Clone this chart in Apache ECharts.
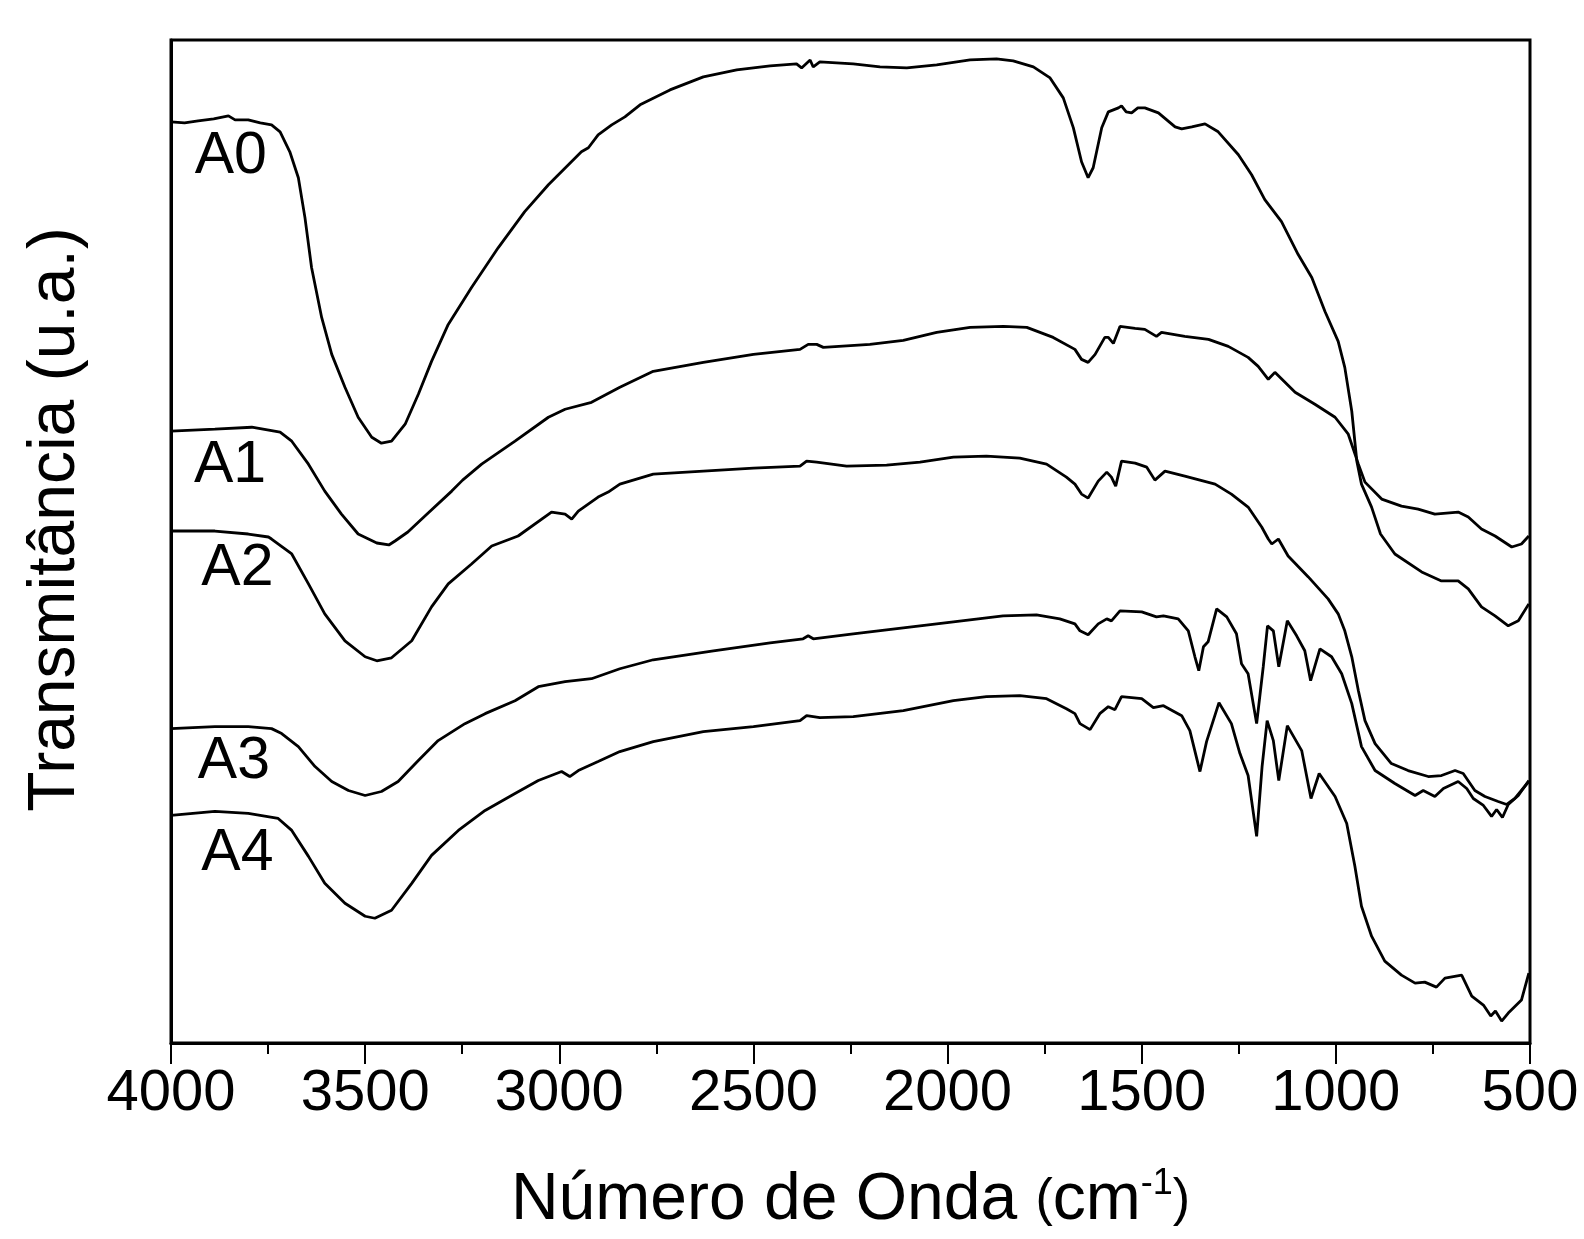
<!DOCTYPE html>
<html>
<head>
<meta charset="utf-8">
<title>FTIR A0-A4</title>
<script src="https://cdn.jsdelivr.net/npm/echarts@6/dist/echarts.min.js"></script>
<style>
  html, body { margin: 0; padding: 0; background: #fff; }
  #chart { width: 1584px; height: 1239px; }
</style>
</head>
<body>
<div id="chart"></div>
<script>
// espectros: [numero de onda, transmitancia (u.a.)]
var specA0 = [[4000,923],[3965,922],[3930,924],[3890,926],[3852,929],[3835,925],[3801,925],[3770,922],[3741,920],[3719,913],[3694,893],[3672,867],[3655,827],[3638,777],[3612,727],[3586,690],[3552,657],[3518,627],[3483,607],[3458,601],[3432,603],[3397,620],[3363,650],[3329,683],[3286,720],[3226,757],[3157,797],[3089,833],[3028,860],[2943,893],[2925,897],[2900,910],[2865,920],[2831,928],[2792,940],[2715,955],[2629,968],[2543,975],[2457,979],[2389,981],[2376,977],[2354,985],[2346,978],[2329,983],[2243,981],[2174,978],[2105,977],[2028,980],[1942,985],[1874,986],[1831,984],[1779,978],[1736,967],[1702,947],[1676,917],[1655,883],[1638,867],[1625,877],[1603,917],[1586,933],[1560,937],[1552,939],[1540,933],[1526,932],[1510,937],[1492,937],[1457,932],[1414,918],[1397,916],[1371,918],[1337,921],[1303,913],[1251,890],[1217,870],[1183,845],[1140,823],[1097,790],[1062,767],[1028,733],[994,703],[977,677],[959,633],[946,583],[934,560],[908,537],[885,510],[848,490],[779,472],[728,463],[685,463],[659,455],[625,437],[590,428],[556,418],[530,423],[503,440]];

var specA1 = [[4000,613],[3887,615],[3792,617],[3719,612],[3689,603],[3646,580],[3604,553],[3561,530],[3518,510],[3502,507],[3470,501],[3439,499],[3423,503],[3390,512],[3346,528],[3277,553],[3249,564],[3200,580],[3114,603],[3028,627],[2985,635],[2917,642],[2844,657],[2758,673],[2629,682],[2500,690],[2380,695],[2359,700],[2337,700],[2320,697],[2200,700],[2114,704],[2028,712],[1942,717],[1856,718],[1796,717],[1728,707],[1672,695],[1655,685],[1638,682],[1620,690],[1595,707],[1586,707],[1573,701],[1556,718],[1517,716],[1492,715],[1462,708],[1449,712],[1389,708],[1328,705],[1277,698],[1226,687],[1200,678],[1174,665],[1157,672],[1105,652],[1054,640],[1002,627],[968,610],[942,580],[925,562],[882,545],[831,538],[788,535],[745,530],[685,532],[659,527],[625,515],[590,508],[547,497],[522,500],[503,508]];

var specA2 = [[4000,513],[3887,513],[3801,510],[3749,507],[3741,505],[3689,490],[3646,460],[3604,430],[3552,403],[3500,387],[3470,383],[3432,386],[3380,403],[3329,437],[3286,460],[3226,480],[3174,498],[3106,508],[3020,532],[2985,530],[2968,525],[2951,533],[2900,547],[2874,552],[2844,560],[2758,570],[2629,573],[2500,576],[2380,578],[2363,583],[2337,582],[2260,578],[2157,579],[2071,582],[1985,587],[1900,588],[1814,586],[1745,580],[1694,567],[1672,560],[1655,550],[1638,546],[1612,563],[1590,572],[1578,567],[1567,558],[1552,583],[1517,581],[1487,577],[1466,564],[1440,573],[1389,568],[1311,560],[1269,550],[1226,537],[1191,517],[1174,505],[1165,500],[1148,505],[1123,488],[1071,467],[1020,445],[994,430],[977,413],[959,387],[942,353],[925,323],[899,300],[857,280],[814,273],[762,267],[728,268],[693,273],[672,270],[642,253],[616,247],[582,242],[560,239],[539,245],[518,255],[503,262]];

var specA3 = [[4000,315],[3887,317],[3801,317],[3741,315],[3715,310],[3672,297],[3629,277],[3586,262],[3543,253],[3500,248],[3458,252],[3415,262],[3363,283],[3312,303],[3243,320],[3191,330],[3114,343],[3054,357],[2985,362],[2917,365],[2844,375],[2758,384],[2603,393],[2457,401],[2372,405],[2359,408],[2346,405],[2243,410],[2114,416],[1985,422],[1857,428],[1771,429],[1711,425],[1672,420],[1659,413],[1638,409],[1612,420],[1590,425],[1578,423],[1556,433],[1500,432],[1462,427],[1444,428],[1406,425],[1380,413],[1363,387],[1353,373],[1341,397],[1329,402],[1307,435],[1281,427],[1256,410],[1243,380],[1226,370],[1204,320],[1187,377],[1176,418],[1161,413],[1147,377],[1125,423],[1101,408],[1080,393],[1065,363],[1041,395],[1011,387],[985,370],[959,340],[934,297],[899,273],[848,260],[796,248],[775,253],[745,247],[723,255],[685,262],[663,255],[646,245],[620,238],[599,227],[586,234],[571,226],[556,239],[530,248],[503,263]];

var specA4 = [[4000,228],[3887,232],[3801,230],[3724,225],[3689,213],[3646,187],[3604,160],[3552,140],[3500,127],[3475,125],[3432,133],[3380,160],[3329,188],[3260,213],[3191,233],[3114,250],[3054,263],[2994,272],[2973,267],[2951,273],[2900,282],[2844,292],[2758,302],[2629,312],[2500,317],[2380,323],[2363,328],[2329,326],[2243,327],[2114,333],[1985,343],[1900,347],[1814,348],[1745,345],[1694,335],[1672,330],[1659,320],[1633,314],[1608,330],[1586,337],[1569,334],[1552,347],[1500,345],[1470,336],[1444,338],[1397,328],[1376,313],[1350,272],[1333,302],[1301,341],[1269,320],[1247,290],[1226,268],[1204,207],[1190,277],[1177,323],[1161,303],[1147,263],[1125,318],[1088,293],[1064,245],[1043,270],[1002,247],[972,220],[951,177],[934,137],[908,107],[874,82],[831,68],[796,60],[771,61],[741,56],[719,65],[676,68],[650,47],[620,38],[601,27],[589,32],[573,22],[556,30],[522,43],[503,70]];

var sampleNames = ['A0', 'A1', 'A2', 'A3', 'A4'];
// posicao dos rotulos das amostras, em coordenadas dos eixos
var labelPos = [[3846,888],[3848,578],[3829,475],[3838,282],[3829,190]];

var xTicks = [4000, 3500, 3000, 2500, 2000, 1500, 1000, 500];

var fontName = '"Liberation Sans", Arial, sans-serif';

var myChart = echarts.init(document.getElementById('chart'));

var specs = [specA0, specA1, specA2, specA3, specA4];
var series = [];
for (var i = 0; i < specs.length; i++) {
	series.push({
		name: sampleNames[i],
		type: 'line',
		data: specs[i],
		showSymbol: false,
		symbol: 'none',
		silent: true,
		lineStyle: { color: '#000', width: 2.8 }
	});
}
series.push({
	type: 'scatter',
	symbolSize: 0,
	silent: true,
	z: 5,
	itemStyle: { color: '#000' },
	data: labelPos.map(function (p, k) { return { name: sampleNames[k], value: p }; }),
	label: {
		show: true,
		position: 'inside',
		formatter: '{b}',
		color: '#000',
		opacity: 1,
		textBorderWidth: 0,
		fontFamily: fontName,
		fontSize: 59
	}
});

var option = {
	backgroundColor: '#fff',
	animation: false,
	grid: {
		left: 171,
		right: 54,
		top: 40,
		bottom: 194,
		show: true,
		borderColor: '#000',
		borderWidth: 3,
		backgroundColor: 'transparent'
	},
	xAxis: {
		type: 'value',
		min: 500,
		max: 4000,
		interval: 500,
		inverse: true,
		axisLine: { show: true, onZero: false, lineStyle: { color: '#000', width: 3 } },
		axisTick: { show: true, length: 21, lineStyle: { color: '#000', width: 2 } },
		minorTick: { show: true, splitNumber: 2, length: 11, lineStyle: { color: '#000', width: 2 } },
		splitLine: { show: false },
		axisLabel: {
			color: '#000',
			fontFamily: fontName,
			fontSize: 58,
			margin: 22,
			showMinLabel: true,
			showMaxLabel: true,
			formatter: function (v) { return xTicks.indexOf(v) >= 0 ? String(v) : ''; }
		},
		name: '{t|Número de Onda }{p|(}{t|cm}{s|-1}{p|)}',
		nameLocation: 'middle',
		nameGap: 123,
		nameTextStyle: {
			rich: {
				t: { fontFamily: fontName, fontSize: 66, color: '#000', lineHeight: 70 },
				p: { fontFamily: fontName, fontSize: 52, color: '#000', lineHeight: 70 },
				s: { fontFamily: fontName, fontSize: 36, color: '#000', lineHeight: 36, verticalAlign: 'top' }
			}
		}
	},
	yAxis: {
		type: 'value',
		min: 0,
		max: 1005,
		axisLine: { show: true, lineStyle: { color: '#000', width: 3 } },
		axisTick: { show: false },
		axisLabel: { show: false },
		splitLine: { show: false },
		name: 'Transmitância (u.a.)',
		nameLocation: 'middle',
		nameGap: 82,
		nameTextStyle: {
			color: '#000',
			fontFamily: fontName,
			fontSize: 66,
			padding: [0, 0, 0, 44]
		}
	},
	series: series
};

myChart.setOption(option);
</script>
</body>
</html>
